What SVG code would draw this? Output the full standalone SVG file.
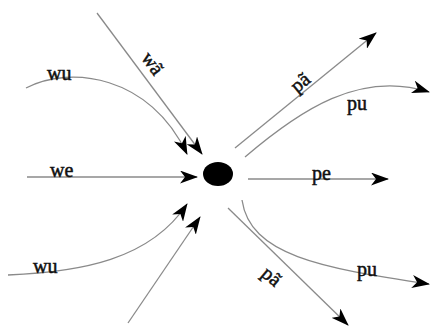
<svg xmlns="http://www.w3.org/2000/svg" width="430" height="326" viewBox="0 0 430 326">
<style>
.c{fill:none;stroke:#8a8a8a;stroke-width:1.3;marker-end:url(#ah)}
.t{font-family:"Liberation Serif","Times New Roman",serif;font-size:20px;fill:#111;stroke:#111;stroke-width:0.5}
</style>
<defs>
<marker id="ah" markerUnits="userSpaceOnUse" markerWidth="18" markerHeight="13" viewBox="0 0 18 13" refX="17" refY="6.5" orient="auto">
<path d="M0,0 L18,6.5 L0,13 L5,6.5 z" fill="#000"/>
</marker>
</defs>
<g id="connectors">
<path class="c" d="M97,13 L202,154"/>
<path class="c" d="M26,88 C70,65 150,75 187,154"/>
<path class="c" d="M27,177 L197,177"/>
<path class="c" d="M8,275 C80,272 150,260 187,204"/>
<path class="c" d="M128,323 L200,217"/>
<path class="c" d="M235,148 L376,33"/>
<path class="c" d="M245,157 C300,110 360,70 429,92"/>
<path class="c" d="M248,179 L388,179"/>
<path class="c" d="M242,200 C250,255 320,268 429,284"/>
<path class="c" d="M228,208 L348,325"/>
</g>
<g id="center"><ellipse cx="218" cy="174" rx="15" ry="12" fill="#000"/></g>
<g id="lbl-wa"><text class="t" transform="translate(153,63) rotate(53)" text-anchor="middle" dominant-baseline="central">wã</text></g>
<g id="lbl-wu1"><text class="t" x="47" y="80">wu</text></g>
<g id="lbl-we"><text class="t" x="50" y="177">we</text></g>
<g id="lbl-wu2"><text class="t" x="33" y="273">wu</text></g>
<g id="lbl-pa1"><text class="t" transform="translate(300,82) rotate(-39)" text-anchor="middle" dominant-baseline="central">pã</text></g>
<g id="lbl-pu1"><text class="t" x="347" y="110">pu</text></g>
<g id="lbl-pe"><text class="t" x="312" y="180">pe</text></g>
<g id="lbl-pu2"><text class="t" x="357" y="276">pu</text></g>
<g id="lbl-pa2"><text class="t" transform="translate(272,276) rotate(40)" text-anchor="middle" dominant-baseline="central">pã</text></g>
</svg>
